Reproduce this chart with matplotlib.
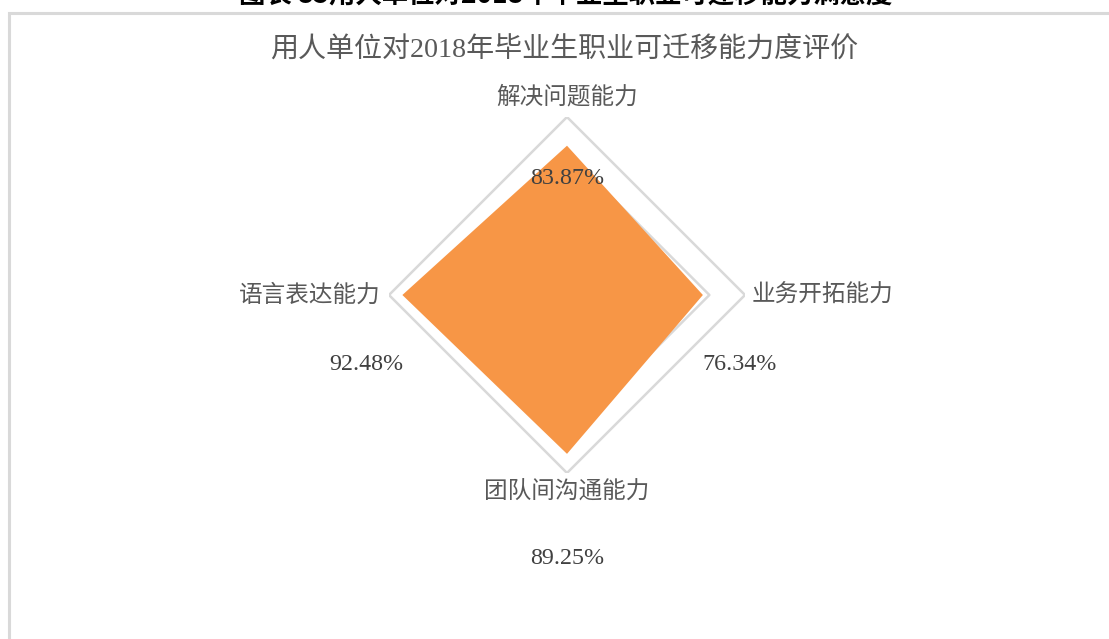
import numpy as np
import matplotlib
matplotlib.use("Agg")
import matplotlib.pyplot as plt
from matplotlib.patches import Rectangle

categories = ["解决问题能力", "业务开拓能力", "团队间沟通能力", "语言表达能力"]
values = [0.8387, 0.7634, 0.8925, 0.9248]
value_labels = ["83.87%", "76.34%", "89.25%", "92.48%"]
grid_levels = [0.8, 1.0]
title = "用人单位对2018年毕业生职业可迁移能力度评价"
doc_title = "图表 85用人单位对2018年毕业生职业可迁移能力满意度"

W, H = 1109, 639
fig = plt.figure(figsize=(W / 100, H / 100), dpi=100)
fig.patch.set_facecolor("white")

def fx(px):
    return px / W

def fy(py):
    return 1 - py / H

cjk = ["Noto Sans CJK SC", "DejaVu Sans"]
mixed = ["Liberation Serif", "Noto Sans CJK SC"]

# border
fig.add_artist(Rectangle((fx(9), -0.05), 1.2, fy(13) + 0.05, transform=fig.transFigure,
                         fill=False, edgecolor="#d9d9d9", lw=2.2))

# clipped document title
fig.text(fx(566), fy(-4), doc_title, ha="center", va="center", fontsize=19,
         fontweight="bold", family=cjk, color="black")

# chart title
fig.text(fx(564), fy(50), title, ha="center", va="center", fontsize=20.2,
         family=mixed, color="#595959")

cx, cy, R = 567, 295, 178
ax = fig.add_axes([fx(cx - R), 1 - (cy + R) / H, 2 * R / W, 2 * R / H])
ax.set_xlim(-1, 1)
ax.set_ylim(-1, 1)
ax.axis("off")

n = len(categories)
theta = np.arange(n) * 2 * np.pi / n
vals = np.array(values)

for lv in grid_levels:
    xs = lv * np.sin(np.append(theta, theta[0]))
    ys = lv * np.cos(np.append(theta, theta[0]))
    ax.plot(xs, ys, color="#d9d9d9", lw=1.8, zorder=1)

ax.fill(vals * np.sin(theta), vals * np.cos(theta), color="#F79646", lw=0, zorder=2)

# category labels
label_pos = [(567, 97, "center"), (752, 295, "left"), (567, 492, "center"), (381, 295, "right")]
for (x, y, ha), c in zip(label_pos, categories):
    fig.text(fx(x), fy(y), c, ha=ha, va="center", fontsize=17, family=cjk, color="#595959")

# value labels
vpos = [(567, 178), (740, 365), (567, 559), (366, 365)]
for (x, y), t in zip(vpos, value_labels):
    fig.text(fx(x), fy(y), t, ha="center", va="center", fontsize=17.3,
             family=["Liberation Serif"], color="#404040", zorder=5)

fig.savefig("out.png", dpi=100)
